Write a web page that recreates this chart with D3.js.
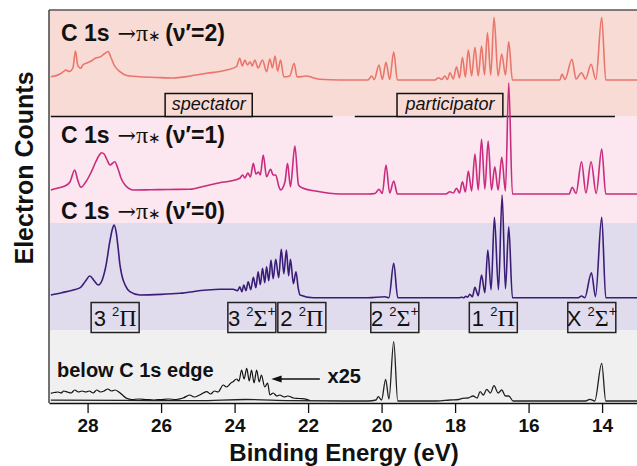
<!DOCTYPE html>
<html><head><meta charset="utf-8">
<script src="https://cdn.jsdelivr.net/npm/d3@7"></script>
<style>body{margin:0;background:#fff}</style></head>
<body><svg id="c" width="637" height="466"></svg>
<script>
// ---------- data (binding energy eV, intensity arb. units above trace baseline) ----------
const energyTicks = [28, 26, 24, 22, 20, 18, 16, 14];

const spectrumV2 = [
[29.00,3.3],[28.75,6],[28.66,8.3],[28.59,10],[28.50,8.5],[28.40,12],[28.33,29],[28.27,15],[28.19,11.7],[28.13,15],[28.02,17],[27.90,19],[27.78,22],[27.66,23],[27.55,26],[27.44,28.5],[27.38,24],[27.28,15],[27.12,8.3],[26.98,5],[26.85,4],[26.58,3.3],[26.1,2.5],[25.68,2],[25.2,4],[24.76,6.7],[24.40,8.5],[24.22,10],[23.95,13.3],[23.86,21.7],[23.79,14],[23.72,20],[23.65,15],[23.58,18.3],[23.52,14],[23.45,20],[23.36,12],[23.24,20],[23.13,8.3],[23.04,21],[22.97,12],[22.90,24],[22.83,9],[22.75,20],[22.66,3],[22.50,4],[22.38,16.7],[22.30,3],[22.15,3.5],[22.04,4],[21.85,2],[21.68,0.7],[21.13,0],
[20.37,0],[20.27,4],[20.20,0.5],[20.07,15],[19.98,0.5],[19.88,17.7],[19.78,0.5],[19.67,28.3],[19.57,0],
[18.55,0],[18.45,2.3],[18.36,0.5],[18.28,4],[18.21,0.5],[18.14,7.3],[18.05,1],[17.96,13.3],[17.88,2],[17.80,22.7],[17.72,3],[17.64,30],[17.55,4],[17.46,32.7],[17.37,4],[17.28,34],[17.20,5],[17.12,47.3],[17.03,5],[16.94,62.7],[16.83,4],[16.73,26],[16.63,5],[16.54,38.3],[16.44,0],
[15.15,0],[15.09,6],[15.01,0.5],[14.82,20.7],[14.71,1],[14.56,7.3],[14.45,1],[14.30,15.7],[14.17,0.5],[14.01,62.7],[13.90,0],[13.05,0]
];

const spectrumV1 = [
[29.00,4],[28.80,6],[28.62,8],[28.48,12],[28.35,24],[28.27,14],[28.18,6.7],[28.05,12],[27.90,22],[27.78,32],[27.68,39],[27.62,41.3],[27.55,40],[27.48,35],[27.39,29],[27.26,32.3],[27.18,26],[27.08,15],[26.98,9],[26.85,5],[26.76,4],[26.3,4.2],[25.8,4.5],[25.22,4.7],[24.8,8],[24.40,11.3],[24.1,13],[23.86,15.7],[23.78,19],[23.72,16],[23.64,21],[23.57,17],[23.49,30.7],[23.42,20],[23.35,22],[23.30,19],[23.22,39],[23.13,17.3],[23.02,24.7],[22.95,19],[22.88,19],[22.80,8],[22.75,4],[22.63,12],[22.56,30.7],[22.48,7.3],[22.36,48],[22.26,9],[22.15,6],[21.8,3],[21.13,0],
[20.37,0],[20.18,0.5],[20.07,4.7],[19.98,0.5],[19.88,29],[19.78,1],[19.67,13],[19.57,0],
[18.25,0],[18.14,2.3],[18.05,1],[17.96,5.7],[17.88,1],[17.80,12.3],[17.72,2],[17.64,23],[17.55,3],[17.46,40],[17.37,4],[17.28,54.7],[17.19,5],[17.10,53],[17.01,4],[16.92,27.3],[16.83,4],[16.73,36.7],[16.63,3],[16.54,111],[16.44,0],
[14.90,0],[14.81,6.7],[14.71,0.5],[14.56,32.3],[14.44,1],[14.30,32.3],[14.16,0.5],[14.01,45],[13.90,0],[13.05,0]
];

const spectrumV0 = [
[29.00,2.7],[28.70,5],[28.39,7.7],[28.20,10],[28.05,17],[27.94,21.7],[27.82,17],[27.71,12.7],[27.60,18],[27.50,32],[27.40,55],[27.33,68],[27.28,72.7],[27.22,65],[27.17,50],[27.12,33],[27.07,22.7],[26.97,12],[26.85,6],[26.58,2.7],[26.0,3.3],[25.49,4.4],[24.76,7.7],[24.40,8.4],[24.04,8.4],[23.92,7],[23.86,11],[23.80,6],[23.75,12.7],[23.69,7],[23.63,16],[23.56,8],[23.49,20.4],[23.42,10],[23.36,26],[23.30,13],[23.24,29.4],[23.18,15],[23.13,31],[23.07,17],[23.01,37.7],[22.95,19],[22.88,38.4],[22.80,20],[22.73,48.4],[22.66,24],[22.59,47.7],[22.53,22],[22.48,38.4],[22.40,14],[22.33,26],[22.27,10],[22.22,2.7],[21.86,0],[21.13,0],
[20.37,0],[19.91,1],[19.80,0],[19.67,34.4],[19.56,0],
[17.90,0],[17.82,0.5],[17.76,0],[17.71,1.5],[17.66,0.5],[17.60,3.4],[17.53,1],[17.46,10.4],[17.37,2],[17.28,22.7],[17.19,5],[17.11,47.7],[17.02,8],[16.93,80.4],[16.82,8],[16.72,102.7],[16.63,9],[16.54,71],[16.44,0],
[14.65,0],[14.56,1.7],[14.47,0],[14.29,25],[14.18,1],[14.01,80.4],[13.90,0],[13.05,0]
];

const belowEdgeX25 = [
[29.00,7.7],[28.90,8.5],[28.80,9],[28.72,8],[28.65,10],[28.55,9],[28.45,8],[28.35,11],[28.25,9],[28.15,10],[28.05,9],[27.95,10],[27.85,8],[27.75,11],[27.65,9],[27.55,10],[27.45,12],[27.35,10],[27.25,11],[27.15,9],[27.05,6],[26.94,2.7],[26.80,1.5],[26.60,2],[26.40,1.5],[26.20,1],[26.00,1.5],[25.80,2],[25.60,1.5],[25.40,3],[25.22,6],[25.10,4],[24.95,6],[24.76,9.3],[24.65,7],[24.55,10],[24.45,9],[24.31,16],[24.22,14],[24.10,18],[24.04,19.3],[23.95,22],[23.88,20],[23.81,31],[23.74,22],[23.67,32.7],[23.60,20],[23.54,31],[23.47,18],[23.40,31],[23.33,19],[23.27,26],[23.18,14],[23.10,18],[23.04,6],[22.95,8],[22.85,5],[22.77,6],[22.65,4],[22.55,5],[22.40,3],[22.25,2.5],[22.04,1.7],[21.95,0.5]
];

const belowEdge = [
[29.00,0.8],[27.0,0.6],[25.0,0.3],[23.7,1.5],[22.5,0.4],[21.0,0],[20.37,0],[20.15,1],[20.09,4.3],[20.00,1],[19.89,21.7],[19.80,2],[19.67,59.3],[19.56,0],[18.50,0],[18.14,1],[17.90,1.5],[17.80,2.7],[17.65,3],[17.51,5],[17.40,3],[17.32,9.3],[17.23,6],[17.14,11.7],[17.04,8],[16.94,15.3],[16.83,8],[16.73,11],[16.63,5],[16.54,5],[16.42,0],[14.45,0],[14.33,1.7],[14.20,0],[14.01,37.7],[13.90,0],[13.05,0]
];

const stateLabels = [
  {E:27.25, n:"3", sym:"Π", plus:false},
  {E:23.53, n:"3", sym:"Σ", plus:true},
  {E:22.17, n:"2", sym:"Π", plus:false},
  {E:19.64, n:"2", sym:"Σ", plus:true},
  {E:16.96, n:"1", sym:"Π", plus:false},
  {E:14.28, n:"X", sym:"Σ", plus:true}
];
const brackets = [
  {label:"spectator", from:29.0, to:21.33, boxFrom:25.89, boxTo:23.52},
  {label:"participator", from:20.73, to:13.65, boxFrom:19.58, boxTo:16.70}
];

// ---------- layout ----------
const svg = d3.select("#c");
const SANS = "'Liberation Sans', Arial, Helvetica, sans-serif";
const SERIF = "'Liberation Serif', 'Times New Roman', serif";
const frameL = 49, frameR = 637, frameT = 10, frameB = 403;
const x = d3.scaleLinear().domain([29.05, 13.05]).range([frameL, frameR]);

const panels = [
  {y0:frameT, y1:116, fill:"#f9dbd5", color:"#e8766c", base:80, data:spectrumV2, title:"2", ty:41},
  {y0:116, y1:223, fill:"#fce6ef", color:"#c92b7f", base:194, data:spectrumV1, title:"1", ty:143},
  {y0:223, y1:330, fill:"#e0dcee", color:"#3b1d78", base:297.7, data:spectrumV0, title:"0", ty:219},
  {y0:330, y1:frameB, fill:"#f0f0f0", color:"#111", base:401, data:belowEdgeX25}
];

svg.selectAll("rect.band").data(panels).enter().append("rect")
  .attr("x", frameL).attr("width", frameR - frameL + 5)
  .attr("y", d => d.y0).attr("height", d => d.y1 - d.y0)
  .attr("fill", d => d.fill);

brackets.forEach(b => {
  svg.append("line").attr("x1", x(b.from)).attr("x2", x(b.to))
    .attr("y1", 116.5).attr("y2", 116.5).attr("stroke", "#111").attr("stroke-width", 1.5);
  svg.append("rect").attr("x", x(b.boxFrom)).attr("width", x(b.boxTo) - x(b.boxFrom))
    .attr("y", 93.5).attr("height", 23).attr("fill", "#f9dbd5")
    .attr("stroke", "#111").attr("stroke-width", 1.5);
  svg.append("text").attr("x", (x(b.boxFrom) + x(b.boxTo)) / 2).attr("y", 110)
    .attr("text-anchor", "middle").attr("font-family", SANS).attr("font-style", "italic")
    .attr("font-size", 18).attr("fill", "#111").text(b.label);
});

panels.forEach(p => {
  const y = d3.scaleLinear().domain([0, 100]).range([p.base, p.base - 100]);
  p.y = y;
  const line = d3.line().x(d => x(d[0])).y(d => y(d[1])).curve(d3.curveMonotoneX);
  svg.append("path").datum(p.data).attr("d", line)
    .attr("fill", "none").attr("stroke", p.color)
    .attr("stroke-width", p.title ? 1.6 : 1.2).attr("stroke-linejoin", "round");
});
{
  const p = panels[3];
  const line = d3.line().x(d => x(d[0])).y(d => p.y(d[1])).curve(d3.curveMonotoneX);
  svg.append("path").datum(belowEdge).attr("d", line)
    .attr("fill", "none").attr("stroke", "#222").attr("stroke-width", 1.3);
}

panels.filter(p => p.title).forEach(p => {
  const t = svg.append("text").attr("x", 61).attr("y", p.ty).attr("fill", "#111").attr("font-size", 23);
  t.append("tspan").attr("font-family", SANS).attr("font-weight", "bold").text("C 1s");
  t.append("tspan").attr("font-family", "'DejaVu Serif', serif").attr("font-size", 22).attr("dx", 8).text("→");
  t.append("tspan").attr("font-family", SERIF).attr("font-size", 24).text("π");
  t.append("tspan").attr("font-family", SERIF).attr("font-size", 15).text("∗");
  t.append("tspan").attr("font-family", SANS).attr("font-weight", "bold").attr("dx", 4).text("(ν′=" + p.title + ")");
});

svg.append("text").attr("x", 57).attr("y", 377).attr("font-family", SANS)
  .attr("font-weight", "bold").attr("font-size", 20).attr("fill", "#111").text("below C 1s edge");
svg.append("line").attr("x1", x(21.68)).attr("x2", x(22.85)).attr("y1", 379).attr("y2", 379)
  .attr("stroke", "#111").attr("stroke-width", 1.5);
svg.append("path").attr("d", d3.line()([[x(23.0), 379], [x(22.72), 375.5], [x(22.72), 382.5]]) + "Z")
  .attr("fill", "#111");
svg.append("text").attr("x", x(21.47)).attr("y", 383).attr("font-family", SANS)
  .attr("font-weight", "bold").attr("font-size", 20).attr("fill", "#111").text("x25");

const sg = svg.selectAll("g.state").data(stateLabels).enter().append("g")
  .attr("transform", d => `translate(${x(d.E)},0)`);
sg.append("rect").attr("x", -24).attr("width", 48).attr("y", 302.5).attr("height", 30)
  .attr("fill", "none").attr("stroke", "#222").attr("stroke-width", 1.5);
const st = sg.append("text").attr("y", 326).attr("text-anchor", "middle").attr("fill", "#111");
st.append("tspan").attr("font-family", SANS).attr("font-size", 22).text(d => d.n + " ");
st.append("tspan").attr("font-family", SANS).attr("font-size", 13).attr("dy", -10).text("2");
st.append("tspan").attr("font-family", SERIF).attr("font-size", 24).attr("dy", 10).text(d => d.sym);
st.filter(d => d.plus).append("tspan").attr("font-family", SANS).attr("font-size", 14).attr("dy", -10).text("+");

svg.append("line").attr("x1", frameL).attr("x2", frameR).attr("y1", frameT).attr("y2", frameT)
  .attr("stroke", "#555").attr("stroke-width", 1.5);
svg.append("line").attr("x1", frameL).attr("x2", frameL).attr("y1", frameT).attr("y2", frameB)
  .attr("stroke", "#444").attr("stroke-width", 1.5);

const axis = svg.append("g").attr("transform", `translate(0,${frameB})`)
  .call(d3.axisBottom(x).tickValues(energyTicks).tickSize(10).tickSizeOuter(0).tickPadding(6));
axis.select(".domain").attr("stroke", "#111").attr("stroke-width", 1.5);
axis.selectAll(".tick line").attr("stroke", "#111").attr("stroke-width", 1.3);
axis.selectAll(".tick text").attr("font-family", SANS).attr("font-weight", "bold")
  .attr("font-size", 19).attr("fill", "#111");

svg.append("text").attr("x", 344).attr("y", 461).attr("text-anchor", "middle")
  .attr("font-family", SANS).attr("font-weight", "bold").attr("font-size", 24).attr("fill", "#111")
  .text("Binding Energy (eV)");
svg.append("text").attr("transform", "translate(33,168) rotate(-90)").attr("text-anchor", "middle")
  .attr("font-family", SANS).attr("font-weight", "bold").attr("font-size", 25).attr("fill", "#111")
  .text("Electron Counts");
</script></body></html>
